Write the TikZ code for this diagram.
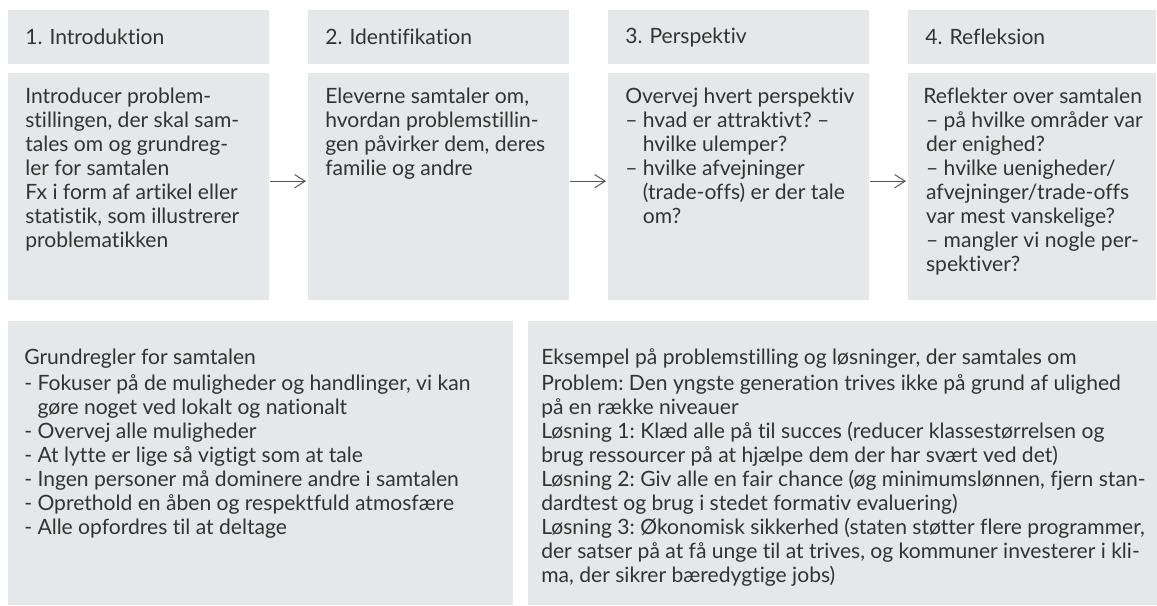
\documentclass[tikz,border=0pt]{standalone}
\usepackage{fontspec}
\setmainfont{Lato}[Ligatures=NoCommon]
\frenchspacing
\usetikzlibrary{arrows.meta, positioning}
\definecolor{boxgray}{HTML}{E6E7E8}
\definecolor{textgray}{HTML}{333333}
\definecolor{arrowgray}{HTML}{555555}
\tikzset{
    head/.style={fill=boxgray, anchor=north west, align=left, text width=#1,
        inner xsep=0.425cm, inner ysep=0pt, minimum height=1.35cm},
    head/.default={5.675cm},
    panel/.style n args={2}{fill=boxgray, anchor=north west, inner sep=0pt,
        minimum width=#1, minimum height=#2},
    txt/.style={align=left, inner sep=0pt, text=textgray},
    flow/.style={draw=arrowgray, line width=0.7pt, -{Straight Barb[length=2.6mm, width=3.3mm]},
        shorten >=0.05cm}
}
\begin{document}
\begin{tikzpicture}[font=\fontsize{15pt}{17.07pt}\selectfont, text=textgray]
    \useasboundingbox (0,0) rectangle (28.925,-15.125);
    \def \hang {\phantom{–\ }}
    \def \dash {\phantom{-\ }}
    % the four steps
    \node[head] (h1) at (0.2,-0.25) {1. Introduktion};
    \node[head] (h2) at (7.7,-0.25) {2. Identifikation};
    \node[head] (h3) at (15.2,-0.25) {3. Perspektiv};
    \node[head=5.35cm] (h4) at (22.7,-0.25) {4. Refleksion};
    \node[panel={6.525cm}{5.675cm}] (b1) at (0.2,-1.825) {};
    \node[panel={6.525cm}{5.675cm}] (b2) at (7.7,-1.825) {};
    \node[panel={6.525cm}{5.675cm}] (b3) at (15.2,-1.825) {};
    \node[panel={6.2cm}{5.675cm}] (b4) at (22.7,-1.825) {};
    \node[txt, below right=0.37cm and 0.425cm of b1.north west] (t1)
        {Introducer problem-\\stillingen, der skal sam-\\tales om og grundreg-\\ler for samtalen\\Fx i form af artikel eller\\statistik, som illustrerer\\problematikken};
    \node[txt, below right=0.37cm and 0.425cm of b2.north west] (t2)
        {Eleverne samtaler om,\\hvordan problemstillin-\\gen påvirker dem, deres\\familie og andre};
    \node[txt, below right=0.37cm and 0.425cm of b3.north west] (t3)
        {Overvej hvert perspektiv\\– hvad er attraktivt? –\\\hang hvilke ulemper?\\– hvilke afvejninger\\\hang (trade-offs) er der tale\\\hang om?};
    \node[txt, below right=0.37cm and 0.375cm of b4.north west] (t4)
        {Reflekter over samtalen\\\hspace*{2pt}– på hvilke områder var\\\hspace*{2pt}der enighed?\\\hspace*{2pt}– hvilke uenigheder/\\\hspace*{2pt}afvejninger/trade-offs\\\hspace*{2pt}var mest vanskelige?\\\hspace*{2pt}– mangler vi nogle per-\\\hspace*{2pt}spektiver?};
    \draw[flow] ([yshift=0.14cm]b1.east) -- ([yshift=0.14cm]b2.west);
    \draw[flow] ([yshift=0.14cm]b2.east) -- ([yshift=0.14cm]b3.west);
    \draw[flow] ([yshift=0.14cm]b3.east) -- ([yshift=0.14cm]b4.west);
    % rules and example
    \node[panel={12.625cm}{7.1cm}] (rules) at (0.2,-8.025) {};
    \node[panel={15.725cm}{7.1cm}] (case) at (13.2,-8.025) {};
    \node[txt, below right=0.68cm and 0.4cm of rules.north west] (r1)
        {Grundregler for samtalen\\[0.05cm]- Fokuser på de muligheder og handlinger, vi kan\\\dash gøre noget ved lokalt og nationalt\\- Overvej alle muligheder\\- At lytte er lige så vigtigt som at tale\\- Ingen personer må dominere andre i samtalen\\- Oprethold en åben og respektfuld atmosfære\\- Alle opfordres til at deltage};
    \node[txt, below right=0.68cm and 0.325cm of case.north west] (c1)
        {Eksempel på problemstilling og løsninger, der samtales om\\[0.05cm]Problem: Den yngste generation trives ikke på grund af ulighed\\på en række niveauer\\Løsning 1: Klæd alle på til succes (reducer klassestørrelsen og\\brug ressourcer på at hjælpe dem der har svært ved det)\\Løsning 2: Giv alle en fair chance (øg minimumslønnen, fjern stan-\\dardtest og brug i stedet formativ evaluering)\\Løsning 3: Økonomisk sikkerhed (staten støtter flere programmer,\\der satser på at få unge til at trives, og kommuner investerer i kli-\\ma, der sikrer bæredygtige jobs)};
\end{tikzpicture}
\end{document}
